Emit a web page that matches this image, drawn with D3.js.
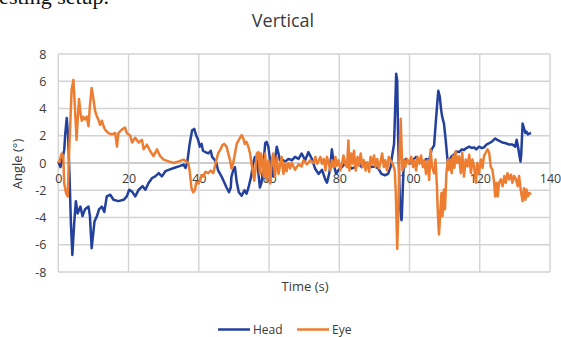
<!DOCTYPE html>
<html><head><meta charset="utf-8">
<script src="https://cdn.jsdelivr.net/npm/d3@7"></script>
<style>
html,body{margin:0;padding:0;background:#fff;}
svg{display:block;}
</style></head>
<body>
<svg id="c" width="561" height="337"></svg>
<script>
// ---- data ----
const xTicks = [0,20,40,60,80,100,120,140];
const yTicks = [-8,-6,-4,-2,0,2,4,6,8];
const seriesNames = ["Head","Eye"];
const headT = [0,0.6,1.2,1.7,2.0,2.4,2.8,3.2,3.6,4.0,4.5,5.0,5.5,6.3,6.9,7.6,8.6,9.0,9.5,10.3,11.0,11.6,12.4,13.1,13.8,14.8,15.7,17.1,18.6,19.5,20.2,21.0,21.9,22.9,24.0,24.8,25.7,26.7,27.6,28.6,29.5,30.5,31.4,32.9,34.3,35.7,36.2,36.7,37.4,38.1,38.7,39.3,39.8,40.3,40.8,41.2,41.9,42.7,43.4,43.8,44.6,45.0,45.5,46.5,47.2,47.9,48.6,49.1,49.3,49.8,50.3,50.8,51.4,52.2,53.0,53.6,54.1,54.9,55.5,56.0,56.5,57.0,57.4,57.9,58.4,58.9,59.3,59.8,60.3,60.8,61.2,61.7,62.2,62.7,63.1,63.6,64.6,65.5,66.5,67.4,68.4,69.3,70.3,71.2,72.2,73.1,74.1,75.1,76.0,76.5,77.2,77.9,78.5,79.1,79.8,80.8,81.7,82.6,83.6,84.5,85.4,86.4,87.3,88.3,89.2,90.1,91.1,92.0,93.0,93.9,94.6,95.0,95.6,95.9,96.2,96.5,96.7,97.0,97.3,97.7,97.8,98.1,98.4,99.1,100,100.9,101.9,102.8,103.8,104.7,105.6,106.3,107.0,107.4,107.9,108.2,108.6,109.0,109.3,109.8,110.3,110.8,111.0,111.4,112.0,112.7,113.3,114.1,114.9,115.5,116.2,117.0,117.7,118.4,119.0,119.8,120.6,121.2,121.9,122.7,123.6,124.4,125.0,125.7,126.5,127.4,128.4,129.3,130.1,130.5,130.9,131.2,131.6,131.8,132.2,132.6,133.0,133.3,133.7,134.1,134.6];
const headV = [0.1,-0.3,0.3,1.0,2.2,3.3,2.0,-1.0,-4.5,-6.75,-4.5,-2.8,-3.7,-3.2,-3.9,-3.4,-3.2,-3.9,-6.25,-4.3,-3.9,-3.4,-3.2,-3.6,-2.45,-2.33,-2.7,-2.8,-2.7,-2.45,-1.96,-2.1,-2.45,-1.96,-1.7,-1.96,-1.47,-1.1,-0.98,-0.74,-0.98,-0.6,-0.5,-0.37,-0.25,-0.12,-0.37,0,1.4,2.4,2.5,2.0,1.7,1.2,1.4,0.9,0.8,0.7,0.9,0.45,0.2,0,-0.55,-1.0,-1.4,-1.8,-2.15,-1.8,-1.0,-0.55,-0.3,-1.4,-2.15,-2.4,-2.0,-2.25,-1.85,-1.0,0,0.45,0.2,-0.8,-1.8,-1.4,-0.25,1.45,1.55,1.2,0.2,-0.3,-1.0,0.2,1.2,0.7,0.2,0.3,0.1,0.3,0.2,0.45,0.3,0.7,0.2,0.8,0.3,-0.4,-0.8,-0.5,-1.2,-1.45,-0.7,1.0,-0.2,-0.8,-0.5,-0.3,0,-0.2,-0.4,-0.3,0,-0.3,0,-0.1,-0.3,-0.25,-0.4,-0.8,-0.9,-0.8,-0.3,0.45,1.4,3.85,6.55,6.05,2.6,-0.55,-3.2,-4.2,-4.0,-1.75,0.2,0.3,-0.05,0.2,0.45,0.2,-0.05,0.3,0.2,1.0,1.3,2.7,4.4,5.3,4.9,3.9,3.4,2.9,1.7,0.25,-0.1,0.25,0.5,0.6,0.85,0.8,1.0,0.95,1.1,1.2,1.1,1.15,1.0,1.2,1.1,1.15,1.35,1.45,1.6,1.8,1.7,1.6,1.5,1.45,1.35,1.35,1.2,1.7,1.2,0.7,0.1,0.6,2.9,2.55,2.2,2.3,2.1,2.15,2.2];
const eyeT = [0.2,0.95,1.4,1.7,2.2,2.7,3.0,3.3,3.8,4.3,4.6,5.0,5.2,5.5,5.9,6.3,6.7,7.1,7.6,8.1,8.6,9.0,9.5,10.0,10.5,11.0,11.4,11.9,12.4,12.9,13.3,14.3,15.2,16.2,16.7,17.1,18.1,19.0,19.5,20.5,21.0,21.9,22.9,23.8,24.3,25.2,26.2,27.1,28.1,29.0,30.0,31.4,32.9,34.3,35.7,36.5,37.0,37.4,37.9,38.4,38.9,39.3,40,40.8,41.2,41.9,42.7,43.4,44.1,44.6,45.0,45.5,46.3,46.7,47.2,47.9,48.4,48.9,49.3,49.8,50.3,50.8,51.4,52.2,52.7,53.1,53.6,54.1,54.6,55.0,55.5,55.8,56.2,56.5,57.0,57.4,57.7,58.1,58.5,58.9,59.3,59.8,60.3,60.8,61.2,61.7,62.2,62.7,63.1,63.6,64.1,64.6,65.0,65.5,66.0,66.5,67.4,68.4,69.3,69.8,70.8,71.7,72.7,73.2,73.7,74.2,74.6,75.1,75.6,76.1,76.5,77.0,77.5,77.9,78.4,78.9,79.3,79.8,80.3,80.8,81.2,81.7,82.2,82.6,82.9,83.4,83.8,84.2,84.7,85.2,85.6,86.1,86.6,87.0,87.5,88.0,88.5,88.9,89.4,89.9,90.3,90.8,91.3,91.7,92.2,92.7,93.1,93.6,94.1,94.6,95.2,95.8,96.1,96.5,96.9,97.2,97.5,97.7,98.0,98.4,98.8,99.3,99.9,100.5,101.0,101.4,101.9,102.3,102.8,103.3,103.8,104.2,104.7,105.2,105.6,106.0,106.4,107.0,107.4,107.8,108.1,108.4,108.8,109.1,109.4,109.8,110.1,110.5,110.9,111.2,111.6,112.0,112.4,112.8,113.1,113.6,114.1,114.6,115.0,115.5,116.0,116.5,117.0,117.5,117.9,118.4,118.9,119.3,119.8,120.3,120.8,121.2,121.7,122.2,122.7,123.1,123.6,124.1,124.4,124.8,125.1,125.5,126.0,126.5,127.0,127.4,127.9,128.4,128.9,129.3,129.8,130.3,130.8,131.2,131.7,132.2,132.6,133.0,133.3,133.7,134.1,134.6];
const eyeV = [0,0.7,0.5,-1.5,-2.2,-2.45,0.25,2.2,5.4,6.1,4.7,2.7,1.7,3.1,4.7,3.7,3.1,3.4,3.2,3.4,2.7,4.2,5.5,4.7,3.8,3.4,3.2,2.8,3.1,2.7,2.45,2.2,2.1,2.2,1.2,2.2,2.45,2.6,2.2,2.0,1.5,1.85,1.5,1.7,1.0,1.35,0.86,0.5,1.0,0.5,0.25,0.12,0,0.12,0.25,0.1,0,-0.55,-1.8,-2.15,-2.0,-1.4,-1.5,-0.9,-1.0,-0.65,-0.75,-0.55,-0.75,-0.25,0.2,0.7,1.05,1.3,1.4,1.2,0.7,0.2,-0.4,0,0.7,1.4,1.7,2.05,1.8,1.4,1.55,1.2,0.7,0,-0.8,-1.3,-0.25,0.7,0.8,-0.8,0.7,0.2,-1.0,0.7,-1.3,0.2,-1.5,0.2,0.7,-1.0,0.45,-0.8,-0.25,0.45,-0.8,0,-0.6,0,-0.4,0,-0.5,-0.1,-0.25,0.2,-0.1,0.2,0,0.45,-0.05,0.2,0.45,-0.05,0.3,-0.55,0.45,-0.05,-0.55,0.2,-0.3,0.45,-0.2,0.2,-0.55,-0.05,0.55,-0.05,-0.3,1.65,-0.55,0.7,-0.05,0.9,-0.55,0.45,-0.2,0.7,-0.3,0.2,-0.55,0.05,-0.65,0.45,-0.05,0.55,-0.3,0.3,-0.4,0.05,0.7,-0.3,0.2,-0.55,0.45,0.2,-0.05,-0.55,-2.2,-6.3,-2.7,1.15,3.25,1.4,-0.55,0.2,-0.3,0.3,-0.05,0.45,-0.3,0.2,-0.55,0.45,-0.05,0.55,-0.3,0.2,-0.8,0.2,-1.25,1.0,-0.25,-0.75,0.25,-1.7,-3.9,-5.25,-3.4,-2.2,-3.9,-1.95,-3.4,-0.75,0.25,-0.5,0.25,-0.75,0.5,-0.35,0.85,0,0.5,-0.75,0.75,-1.0,0.25,-0.25,0.6,-0.75,0.25,-0.25,-1.45,0,-0.75,0.25,-0.35,0.5,0.75,1.0,0.75,-0.25,-0.5,-1.45,-2.45,-1.45,-2.45,-1.45,-1.2,-1.7,-0.95,-1.45,-0.75,-1.2,-0.85,-1.45,-0.95,-1.2,-1.7,-0.95,-2.05,-2.8,-1.85,-2.7,-1.95,-2.45,-2.2,-2.3];

// ---- chart ----
const svg = d3.select("#c");
const FONT = "'Open Sans', 'Liberation Sans', sans-serif";
const colors = {Head:"#22409c", Eye:"#ed7d31"};
const x = d3.scaleLinear().domain([0,140]).range([58.3,550]);
const y = d3.scaleLinear().domain([-8,8]).range([272,54]);
const fmt = d => String(d);

// cropped caption text from source page
svg.append("text").attr("x",-7).attr("y",4).attr("font-family","'Liberation Serif', serif")
  .attr("font-size",22).attr("fill","#111").text("testing setup.");

// gridlines
const g = svg.append("g");
g.selectAll("line.h").data(yTicks).join("line")
  .attr("x1",x(0)).attr("x2",x(140)).attr("y1",d=>y(d)).attr("y2",d=>y(d))
  .attr("stroke",d=>d===0?"#bdbdbd":"#d3d3d3").attr("stroke-width",1.4);
g.selectAll("line.v").data(xTicks).join("line")
  .attr("y1",y(8)).attr("y2",y(-8)).attr("x1",d=>x(d)).attr("x2",d=>x(d))
  .attr("stroke","#d3d3d3").attr("stroke-width",1.4);

// y tick labels via axis
const yAxis = svg.append("g").attr("transform",`translate(${x(0)-12},0)`)
  .call(d3.axisLeft(y).tickValues(yTicks).tickSize(0).tickPadding(0).tickFormat(fmt));
yAxis.select(".domain").remove();
yAxis.selectAll("text").attr("font-family",FONT).attr("font-size",12.5).attr("fill","#3a3a3a");

// x tick labels via axis, positioned below zero line
const xAxis = svg.append("g").attr("transform",`translate(0,${y(0)+11})`)
  .call(d3.axisBottom(x).tickValues(xTicks).tickSize(0).tickPadding(0).tickFormat(fmt));
xAxis.select(".domain").remove();
xAxis.selectAll("text").attr("font-family",FONT).attr("font-size",12.5).attr("fill","#3a3a3a");

// lines
const mk = (T,V)=>T.map((t,i)=>({t, v:V[i]}));
const line = d3.line().x(d=>x(d.t)).y(d=>y(d.v));
svg.append("path").datum(mk(headT,headV)).attr("d",line).attr("fill","none")
  .attr("stroke",colors.Head).attr("stroke-width",2.5).attr("stroke-linejoin","round");
svg.append("path").datum(mk(eyeT,eyeV)).attr("d",line).attr("fill","none")
  .attr("stroke",colors.Eye).attr("stroke-width",2.5).attr("stroke-linejoin","round");

// title and axis titles
svg.append("text").attr("x",283).attr("y",27).attr("text-anchor","middle")
  .attr("font-family",FONT).attr("font-size",18).attr("fill","#3a3a3a").text("Vertical");
svg.append("text").attr("x",305).attr("y",291).attr("text-anchor","middle")
  .attr("font-family",FONT).attr("font-size",13).attr("fill","#3a3a3a").text("Time (s)");
svg.append("text").attr("transform","translate(22,164) rotate(-90)").attr("text-anchor","middle")
  .attr("font-family",FONT).attr("font-size",13).attr("fill","#3a3a3a").text("Angle (°)");

// legend
const leg = svg.append("g");
const legX = {Head:218, Eye:297};
seriesNames.forEach(n=>{
  leg.append("line").attr("x1",legX[n]).attr("x2",legX[n]+32).attr("y1",329.5).attr("y2",329.5)
    .attr("stroke",colors[n]).attr("stroke-width",2.5);
  leg.append("text").attr("x",legX[n]+35).attr("y",333.5).attr("font-family",FONT)
    .attr("font-size",12).attr("fill","#3a3a3a").text(n);
});
</script>
</body></html>
